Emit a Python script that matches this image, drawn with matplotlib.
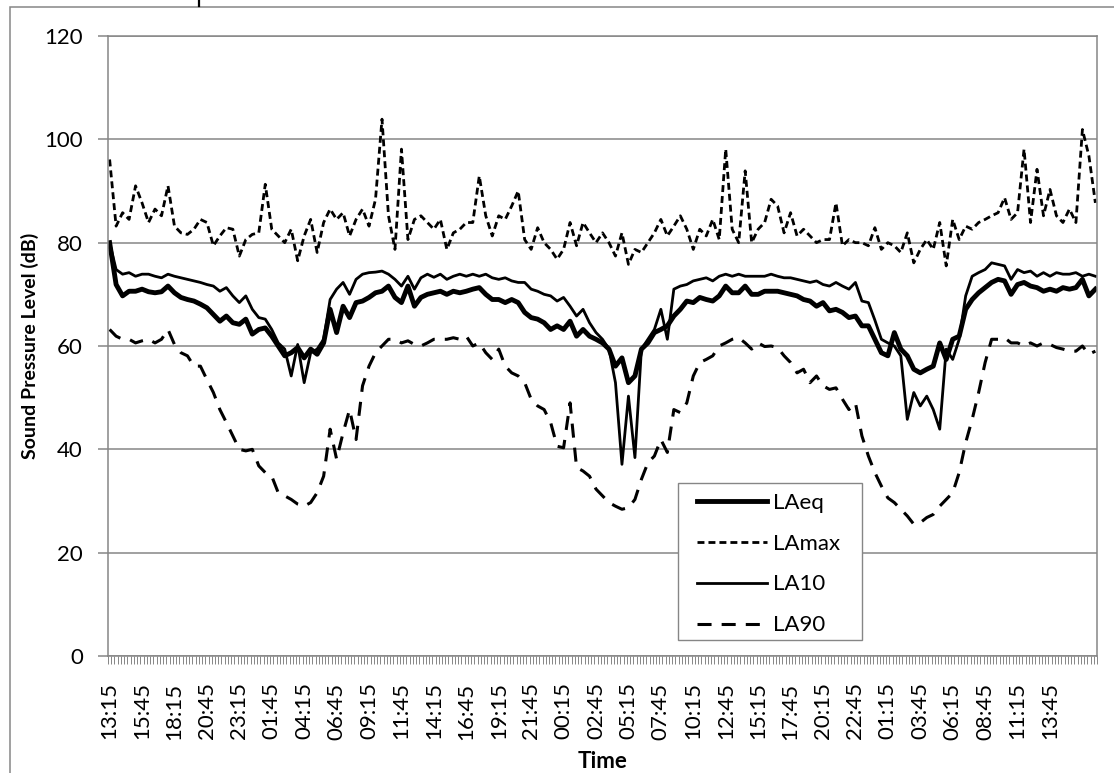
import numpy as np
import pandas as pd
import matplotlib
matplotlib.use("Agg")
import matplotlib.pyplot as plt
from matplotlib.patches import Rectangle, Shadow
from matplotlib.lines import Line2D

# readings every 30 minutes, starting 13:15 on day 1
start_time = "2000-01-01 13:15"

laeq = [
    80.0, 71.9, 69.7, 70.6, 70.6, 71.0, 70.5, 70.3, 70.5, 71.6,
    70.3, 69.4, 69.0, 68.7, 68.1, 67.4, 66.1, 64.8, 65.8, 64.5,
    64.2, 65.2, 62.3, 63.2, 63.5, 61.9, 60.0, 58.1, 58.7, 59.7,
    57.7, 59.4, 58.4, 60.6, 67.1, 62.6, 67.7, 65.5, 68.4, 68.7,
    69.4, 70.3, 70.6, 71.6, 69.4, 68.4, 71.6, 67.7, 69.4, 70.0,
    70.3, 70.6, 70.0, 70.6, 70.3, 70.6, 71.0, 71.3, 70.0, 69.0,
    69.0, 68.4, 69.0, 68.4, 66.5, 65.5, 65.2, 64.5, 63.2, 63.9,
    63.2, 64.8, 61.9, 63.2, 61.9, 61.3, 60.6, 59.4, 56.1, 57.7,
    52.9, 54.2, 59.4, 60.6, 62.6, 63.2, 63.9, 65.8, 67.1, 68.7,
    68.4, 69.4, 69.0, 68.7, 69.7, 71.6, 70.3, 70.3, 71.6, 70.0,
    70.0, 70.6, 70.6, 70.6, 70.3, 70.0, 69.7, 69.0, 68.7, 67.7,
    68.4, 66.8, 67.1, 66.5, 65.5, 65.8, 63.9, 63.9, 61.3, 58.7,
    58.1, 62.6, 59.4, 58.1, 55.5, 54.8, 55.5, 56.1, 60.6, 57.4,
    61.3, 61.9, 67.1, 69.0, 70.3, 71.3, 72.3, 72.9, 72.6, 70.0,
    71.9, 72.3, 71.6, 71.3, 70.6, 71.0, 70.6, 71.3, 71.0, 71.3,
    72.9, 69.7, 71.0,
]

lamax = [
    96.1, 83.2, 85.8, 84.5, 91.0, 87.7, 83.9, 86.5, 85.2, 91.0,
    83.2, 81.9, 81.6, 82.6, 84.5, 83.9, 79.4, 81.3, 82.9, 82.6,
    77.4, 80.6, 81.6, 81.9, 91.3, 82.6, 81.3, 80.0, 82.6, 76.5,
    81.3, 84.5, 78.1, 83.9, 86.5, 84.5, 85.8, 81.3, 84.5, 86.5,
    83.2, 88.4, 103.9, 85.2, 78.7, 98.1, 80.6, 84.5, 85.2, 83.9,
    82.6, 84.5, 78.7, 81.9, 82.6, 83.9, 83.9, 92.9, 85.2, 81.3,
    85.2, 84.5, 87.1, 90.0, 80.6, 78.7, 82.9, 80.0, 78.7, 76.8,
    78.7, 83.9, 79.4, 83.9, 81.9, 80.0, 81.9, 80.0, 77.4, 81.9,
    75.8, 78.7, 78.1, 80.0, 81.9, 84.5, 81.3, 83.2, 85.2, 82.6,
    78.7, 82.6, 81.3, 84.5, 80.6, 98.1, 82.6, 80.0, 93.9, 80.0,
    82.6, 83.9, 88.4, 87.1, 81.9, 85.8, 81.3, 82.6, 81.3, 80.0,
    80.6, 80.6, 87.7, 79.4, 80.6, 80.0, 80.0, 79.4, 82.9, 78.7,
    80.0, 79.4, 78.1, 81.9, 76.1, 78.7, 80.6, 78.7, 83.9, 75.5,
    84.5, 80.6, 83.2, 82.6, 83.9, 84.5, 85.2, 85.8, 88.7, 84.5,
    85.8, 98.1, 83.9, 94.2, 85.2, 90.3, 85.2, 83.9, 86.5, 83.9,
    101.9, 96.8, 87.7,
]

la10 = [
    80.0, 74.8, 73.9, 74.2, 73.5, 73.9, 73.9, 73.5, 73.2, 73.9,
    73.5, 73.2, 72.9, 72.6, 72.3, 71.9, 71.6, 70.6, 71.3, 69.7,
    68.4, 69.7, 67.1, 65.5, 65.2, 63.2, 60.6, 59.4, 54.2, 60.3,
    52.9, 58.7, 59.4, 61.3, 69.0, 71.0, 72.3, 70.0, 72.9, 73.9,
    74.2, 74.3, 74.5, 73.9, 72.9, 71.6, 73.5, 71.0, 73.2, 73.9,
    73.3, 73.9, 72.9, 73.5, 73.9, 73.5, 73.9, 73.5, 73.9, 73.2,
    72.9, 73.2, 72.6, 72.3, 72.3, 71.0, 70.6, 70.0, 69.7, 68.7,
    69.4, 67.7, 65.8, 67.1, 64.5, 62.6, 61.3, 59.4, 52.9, 37.1,
    50.3, 38.4, 59.4, 61.3, 63.2, 67.1, 61.3, 71.0, 71.6, 71.9,
    72.6, 72.9, 73.2, 72.6, 73.5, 73.9, 73.5, 73.9, 73.5, 73.5,
    73.5, 73.5, 73.9, 73.5, 73.2, 73.2, 72.9, 72.6, 72.3, 72.6,
    71.9, 71.6, 72.3, 71.6, 71.0, 72.3, 68.7, 68.4, 65.0, 61.3,
    60.6, 60.0, 58.1, 45.8, 51.0, 48.4, 50.3, 47.7, 43.9, 59.4,
    57.4, 61.3, 69.7, 73.5, 74.2, 74.8, 76.1, 75.8, 75.5, 72.9,
    74.8, 74.2, 74.5, 73.5, 74.2, 73.5, 74.2, 73.9, 73.9, 74.2,
    73.5, 73.9, 73.5,
]

la90 = [
    63.2, 61.9, 61.3, 61.3, 60.6, 61.0, 61.3, 60.6, 61.3, 63.2,
    60.3, 58.7, 58.1, 56.1, 56.1, 53.5, 51.0, 47.7, 45.2, 42.6,
    40.0, 39.7, 40.0, 36.8, 35.5, 34.8, 31.6, 31.0, 30.3, 29.4,
    29.0, 29.7, 31.6, 34.8, 43.9, 38.1, 43.2, 47.7, 41.9, 52.3,
    56.1, 58.7, 60.0, 61.3, 61.3, 60.6, 61.0, 60.3, 60.0, 60.6,
    61.3, 61.3, 61.3, 61.6, 61.3, 61.9, 60.0, 60.6, 58.7, 57.4,
    59.4, 56.1, 54.8, 54.2, 52.9, 49.7, 48.4, 47.7, 45.2, 40.6,
    40.3, 49.0, 36.5, 35.8, 34.8, 32.3, 31.0, 29.7, 29.0, 28.4,
    28.7, 30.3, 34.2, 37.4, 38.7, 41.9, 39.4, 47.7, 47.1, 49.0,
    54.2, 56.8, 57.4, 58.1, 60.0, 60.6, 61.3, 61.6, 60.6, 59.4,
    60.6, 59.9, 60.0, 59.7, 58.1, 56.8, 54.8, 55.5, 52.9, 54.2,
    52.3, 51.6, 51.9, 49.7, 47.7, 49.0, 42.6, 38.7, 35.5, 32.9,
    30.6, 29.7, 28.4, 27.1, 25.5, 25.8, 26.8, 27.4, 29.0, 30.3,
    31.6, 35.5, 41.3, 45.8, 51.0, 56.8, 61.3, 61.3, 61.6, 60.6,
    60.6, 60.0, 60.6, 60.0, 60.6, 60.3, 59.7, 59.4, 59.0, 59.0,
    60.0, 58.4, 59.0,
]

series_names = ["LAeq", "LAmax", "LA10", "LA90"]

W, H = 1114, 773
grid_col = "#868686"
font = "Lato"

n = len(laeq)
times = pd.date_range(start_time, periods=n, freq="30min").strftime("%H:%M")
# the axis is a 15 minute category axis; 30 minute readings sit on every other slot
pos = np.arange(n) * 2
label_idx = np.arange(0, n - 6, 5)  # labels every 2.5 h, last one 13:45

fig = plt.figure(figsize=(W / 100, H / 100), dpi=100)
ax = fig.add_axes([108 / W, 1 - 656 / H, (1097 - 108) / W, 620 / H])

ax.plot(pos, laeq, color="black", lw=3.5, solid_joinstyle="round", label=series_names[0])
ax.plot(pos, lamax, color="black", lw=2.0, dashes=(2.5, 1.45), label=series_names[1])
ax.plot(pos, la10, color="black", lw=2.0, solid_joinstyle="round", label=series_names[2])
ax.plot(pos, la90, color="black", lw=2.2, dashes=(4.6, 3.3), label=series_names[3])

ax.set_ylim(0, 120)
ax.set_yticks(np.arange(0, 121, 20))
ax.set_xlim(-0.5, pos[-1] + 0.5)
ax.set_xticks(pos[label_idx])
ax.set_xticklabels(times[label_idx], rotation=90, fontsize=16, family=font)
ax.set_xticks(np.arange(-0.5, pos[-1] + 1, 1), minor=True)
for lab in ax.get_yticklabels():
    lab.set_family(font)
    lab.set_fontsize(16)

ax.tick_params(axis="x", which="major", length=0, pad=19)
ax.tick_params(axis="x", which="minor", length=6, width=0.7, color=grid_col)
ax.tick_params(axis="y", length=7, width=1.1, color=grid_col, pad=11)

ax.yaxis.grid(True, color=grid_col, lw=1.1)
ax.set_axisbelow(True)
for side in ["left", "bottom", "right", "top"]:
    ax.spines[side].set_color(grid_col)
    ax.spines[side].set_linewidth(1.1)

ax.set_ylabel("Sound Pressure Level (dB)", fontsize=14, fontweight="bold", family=font)
ax.yaxis.set_label_coords((39 - 108) / 989, 0.5)
ax.set_xlabel("Time", fontsize=16, fontweight="bold", family=font, labelpad=8)

# legend box drawn by hand so its padding matches the original
box = Rectangle((0.576, 0.0258), 0.186, 0.253, transform=ax.transAxes,
                facecolor="white", edgecolor=grid_col, lw=1.0, zorder=4)
ax.add_patch(Shadow(box, 2.5, -2.5, facecolor="0.5", edgecolor="none", alpha=0.45, zorder=3.9))
ax.add_patch(Shadow(box, 1.2, -1.2, facecolor="0.45", edgecolor="none", alpha=0.5, zorder=3.95))
ax.add_patch(box)
leg = ax.legend(loc="upper left", bbox_to_anchor=(0.5956, 0.2635), prop={"family": font, "size": 16},
                handlelength=3.15, handletextpad=0.27, labelspacing=0.94,
                borderpad=0, borderaxespad=0, frameon=False)
leg.set_zorder(5)

# outer chart border and the clipped stroke of the title above it
fig.add_artist(Rectangle((10 / W, -0.1), 1.2, 1.1 - 7 / H, transform=fig.transFigure,
                         facecolor="none", edgecolor=grid_col, lw=1.1, clip_on=False))
fig.add_artist(Line2D([199 / W, 199 / W], [1.0, 1 - 6 / H], transform=fig.transFigure,
                      color="black", lw=1.6))

fig.savefig("out.png", dpi=100)
